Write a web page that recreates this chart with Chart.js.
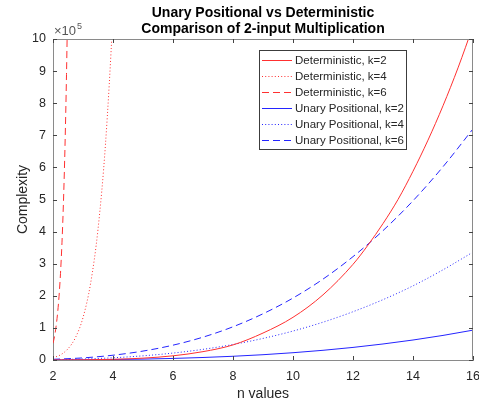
<!DOCTYPE html>
<html>
<head>
<meta charset="utf-8">
<script src="https://cdn.jsdelivr.net/npm/chart.js@4/dist/chart.umd.min.js"></script>
<style>
html,body{margin:0;padding:0;background:#fff;}
canvas{display:block;}
</style>
</head>
<body>
<canvas id="c" width="479" height="402"></canvas>
<script>
// values in units of 10^5
const titleLines = ['Unary Positional vs Deterministic', 'Comparison of 2-input Multiplication'];
const xLabel = 'n values';
const yLabel = 'Complexity';
const xTicks = [2, 4, 6, 8, 10, 12, 14, 16];
const yTicks = [0, 1, 2, 3, 4, 5, 6, 7, 8, 9, 10];
const seriesLabels = ['Deterministic, k=2', 'Deterministic, k=4', 'Deterministic, k=6',
  'Unary Positional, k=2', 'Unary Positional, k=4', 'Unary Positional, k=6'];

const nDetK2 = [2, 3, 4, 5, 6, 7, 8, 9, 10, 11, 12, 12.5, 13, 13.5, 14, 14.5, 15, 15.5, 16];
const vDetK2 = [0.001, 0.006, 0.021, 0.057, 0.13, 0.26, 0.47, 0.84, 1.33, 2.03, 2.98, 3.58, 4.25, 5.0, 5.88, 6.85, 7.92, 9.1, 10.4];

const nDetK4 = [2, 2.25, 2.5, 2.75, 3, 3.25, 3.5, 3.75, 4, 4.1];
const vDetK4 = [0.068, 0.16, 0.35, 0.70, 1.32, 2.37, 4.07, 6.73, 10.78, 12.9];

const nDetK6 = [2, 2.05, 2.1, 2.15, 2.2, 2.25, 2.3, 2.35, 2.4, 2.45, 2.5];
const vDetK6 = [0.52, 0.73, 1.03, 1.43, 1.97, 2.70, 3.67, 4.96, 6.66, 8.89, 11.8];

const nUnK2 = [2, 3, 4, 5, 6, 7, 8, 9, 10, 11, 12, 13, 14, 15, 16];
const vUnK2 = [0.002, 0.006, 0.015, 0.028, 0.049, 0.078, 0.116, 0.165, 0.227, 0.302, 0.392, 0.499, 0.623, 0.766, 0.93];

const nUnK4 = [2, 3, 4, 5, 6, 7, 8, 9, 10, 11, 12, 13, 14, 15, 16];
const vUnK4 = [0.010, 0.031, 0.069, 0.130, 0.216, 0.332, 0.483, 0.672, 0.902, 1.178, 1.504, 1.88, 2.31, 2.81, 3.36];

const nUnK6 = [2, 3, 4, 5, 6, 7, 8, 9, 10, 11, 12, 13, 14, 15, 16];
const vUnK6 = [0.021, 0.066, 0.149, 0.278, 0.462, 0.712, 1.035, 1.44, 1.93, 2.52, 3.22, 4.03, 4.96, 6.02, 7.2];

const RED = '#ff3030';
const BLUE = '#2424ff';
const SOLID = [];
const DOT = [1, 2.2];
const DASH = [7, 4];
const seriesColors = [RED, RED, RED, BLUE, BLUE, BLUE];
const seriesDashes = [SOLID, DOT, DASH, SOLID, DOT, DASH];

function pts(n, v) { return n.map((x, i) => ({ x: x, y: v[i] })); }
function ds(i, n, v) {
  return {
    label: seriesLabels[i], data: pts(n, v), borderColor: seriesColors[i], backgroundColor: seriesColors[i],
    borderWidth: 1, borderDash: seriesDashes[i].slice(), pointRadius: 0, fill: false,
    cubicInterpolationMode: 'monotone'
  };
}

const TEXT = '#262626';
const FONT = 'Liberation Sans, Arial, Helvetica, sans-serif';

const decor = {
  id: 'decor',
  afterDraw(chart) {
    const ctx = chart.ctx;
    const a = chart.chartArea;
    const xs = chart.scales.x, ys = chart.scales.y;
    ctx.save();
    ctx.setLineDash([]);
    // box (top/right)
    ctx.strokeStyle = '#8a8a8a';
    ctx.lineWidth = 1;
    ctx.beginPath();
    ctx.moveTo(Math.round(a.left) + 0.5, Math.round(a.top) + 0.5);
    ctx.lineTo(Math.round(a.right) - 0.5, Math.round(a.top) + 0.5);
    ctx.lineTo(Math.round(a.right) - 0.5, Math.round(a.bottom) - 0.5);
    ctx.stroke();
    // inner ticks
    ctx.strokeStyle = '#444';
    ctx.beginPath();
    xTicks.forEach(t => {
      const px = Math.round(xs.getPixelForValue(t)) + 0.5;
      ctx.moveTo(px, a.bottom); ctx.lineTo(px, a.bottom - 4);
      ctx.moveTo(px, a.top); ctx.lineTo(px, a.top + 4);
    });
    yTicks.forEach(t => {
      const py = Math.round(ys.getPixelForValue(t)) + 0.5;
      ctx.moveTo(a.left, py); ctx.lineTo(a.left + 4, py);
      ctx.moveTo(a.right, py); ctx.lineTo(a.right - 4, py);
    });
    ctx.stroke();
    // title
    ctx.fillStyle = '#000';
    ctx.textAlign = 'center';
    ctx.textBaseline = 'alphabetic';
    ctx.font = 'bold 14px ' + FONT;
    const cx = (a.left + a.right) / 2;
    ctx.fillText(titleLines[0], cx, 17);
    ctx.fillText(titleLines[1], cx, 33);
    // axis labels
    ctx.fillStyle = TEXT;
    ctx.font = '14px ' + FONT;
    ctx.fillText(xLabel, cx, 398);
    ctx.save();
    ctx.translate(27, (a.top + a.bottom) / 2);
    ctx.rotate(-Math.PI / 2);
    ctx.fillText(yLabel, 0, 0);
    ctx.restore();
    // exponent
    ctx.textAlign = 'left';
    ctx.fillStyle = '#555';
    ctx.font = '13px ' + FONT;
    ctx.fillText('\u00d710', a.left + 1, 35);
    ctx.font = '9px ' + FONT;
    ctx.fillText('5', a.left + 24, 29);
    // legend
    const lx = 259.5, ly = 50.5, lw = 147, lh = 99;
    ctx.fillStyle = '#fff';
    ctx.fillRect(lx, ly, lw, lh);
    ctx.strokeStyle = '#3c3c3c';
    ctx.strokeRect(lx, ly, lw, lh);
    ctx.font = '11.5px ' + FONT;
    ctx.textBaseline = 'middle';
    seriesLabels.forEach((lab, i) => {
      const yc = Math.round(59.5 + i * 16);
      ctx.fillStyle = seriesColors[i];
      const dash = seriesDashes[i];
      if (dash.length === 0) {
        ctx.fillRect(262, yc, 30, 1);
      } else {
        const step = dash[0] + dash[1];
        for (let x = 262; x < 292; x += step) {
          ctx.fillRect(x, yc, Math.min(dash[0], 292 - x), 1);
        }
      }
      ctx.fillStyle = TEXT;
      ctx.fillText(lab, 295, yc + 0.5);
    });
    ctx.restore();
  }
};

new Chart(document.getElementById('c'), {
  type: 'line',
  data: {
    datasets: [
      ds(0, nDetK2, vDetK2),
      ds(1, nDetK4, vDetK4),
      ds(2, nDetK6, vDetK6),
      ds(3, nUnK2, vUnK2),
      ds(4, nUnK4, vUnK4),
      ds(5, nUnK6, vUnK6)
    ]
  },
  options: {
    responsive: false,
    animation: false,
    devicePixelRatio: 1,
    layout: { padding: { top: 39, right: 6, left: 0, bottom: 0 } },
    plugins: { legend: { display: false }, title: { display: false }, tooltip: { enabled: false } },
    scales: {
      x: {
        type: 'linear', min: 2, max: 16,
        afterBuildTicks: s => { s.ticks = xTicks.map(v => ({ value: v })); },
        afterFit: s => { s.height = 42; s.paddingLeft = 0; s.paddingRight = 0; },
        grid: { drawOnChartArea: false, drawTicks: false },
        border: { display: true, color: '#8a8a8a', width: 1 },
        ticks: { padding: 9, color: TEXT, font: { family: FONT, size: 12.5 }, maxRotation: 0 }
      },
      y: {
        type: 'linear', min: 0, max: 10,
        afterBuildTicks: s => { s.ticks = yTicks.map(v => ({ value: v })); },
        afterFit: s => { s.width = 53; s.paddingTop = 0; s.paddingBottom = 0; },
        grid: { drawOnChartArea: false, drawTicks: false },
        border: { display: true, color: '#8a8a8a', width: 1 },
        ticks: { padding: 7, color: TEXT, font: { family: FONT, size: 12.5 } }
      }
    }
  },
  plugins: [decor]
});
</script>
</body>
</html>
